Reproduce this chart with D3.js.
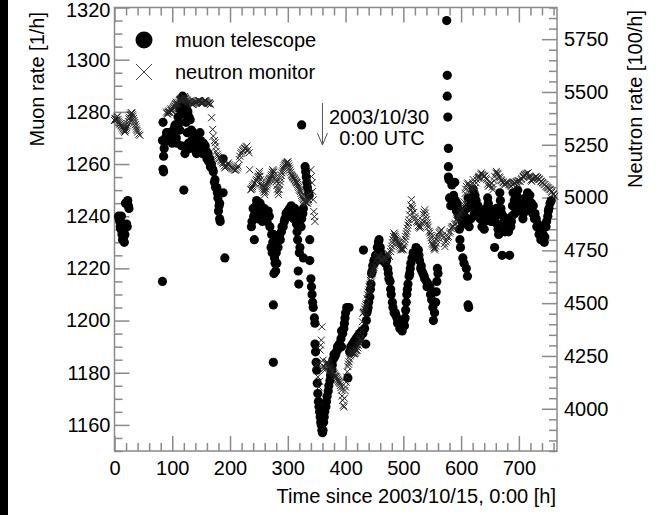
<!DOCTYPE html>
<html>
<head>
<meta charset="utf-8">
<script src="https://cdn.jsdelivr.net/npm/d3@7"></script>
<style>
  body { margin: 0; background: #fff; }
  text { font-family: "Liberation Sans", Arial, Helvetica, sans-serif; }
</style>
</head>
<body>
<svg id="chart" width="658" height="515"></svg>
<script>

//Tick labels
var hourTicks = [0, 100, 200, 300, 400, 500, 600, 700];
var muonTicks = [1160, 1180, 1200, 1220, 1240, 1260, 1280, 1300, 1320];
var neutronTicks = [4000, 4250, 4500, 4750, 5000, 5250, 5500, 5750];

//Muon telescope [hour, rate 1/h]
var muonStart = [[7,1240],[8,1239],[9,1238],[10,1236],[11,1235],[12,1240],[13,1233],[14,1231],[15,1237],[16,1232],[17,1230],[18,1233],[19,1245],[20,1236],[21,1237],[22,1236],[23,1246],[24,1244],[25,1243]];
var muonRise = [[83,1215],[84,1276],[83,1269],[86,1266],[85,1263],[84,1258],[85,1257],[88,1270],[90,1272],[92,1269],[93,1271],[95,1272],[96,1270],[99,1270],[100,1268],[102,1273],[104,1274],[105,1275],[107,1270],[108,1268],[110,1275],[110,1278],[112,1276],[113,1273],[113,1281],[115,1283],[116,1267],[117,1285],[118,1286],[119,1282],[120,1284],[120,1250],[121,1279],[122,1283],[122,1264],[124,1276],[125,1281],[126,1272],[127,1280],[128,1268],[129,1278],[130,1266],[131,1277],[133,1273],[134,1269],[136,1272],[137,1266],[139,1271],[140,1268],[142,1264],[143,1271],[145,1269],[146,1266],[148,1272],[149,1269],[151,1267],[152,1264],[154,1268],[155,1265],[157,1267],[159,1265],[160,1262],[162,1264],[163,1261],[165,1262],[166,1259],[168,1260],[170,1258],[171,1257],[173,1253],[174,1254],[175,1251],[177,1251],[178,1249],[179,1247],[180,1242],[181,1244],[182,1245],[182,1239],[183,1238],[188,1249],[188,1262],[191,1224]];
var muonPre = [[237,1236],[238,1238],[240,1243],[241,1240],[242,1231],[243,1242],[245,1244],[246,1246],[248,1241],[249,1239],[251,1243],[252,1245],[254,1240],[256,1238],[257,1240],[259,1243],[260,1241],[262,1241],[264,1238],[266,1242],[268,1240],[269,1236],[271,1228],[272,1233],[273,1226],[274,1230],[275,1233],[275,1206],[275,1184],[276,1218],[277,1224],[278,1222],[279,1219],[280,1226],[281,1222],[283,1228],[284,1231],[286,1233],[287,1231],[289,1234],[290,1236],[292,1236],[294,1238],[295,1239],[297,1241],[298,1240],[300,1242],[301,1240],[303,1243],[304,1242],[306,1244],[307,1242],[309,1240],[310,1239],[312,1243],[313,1241],[315,1237],[316,1234],[317,1231],[318,1219],[319,1214],[320,1226],[321,1228],[323,1236],[324,1239],[324,1275],[326,1241],[327,1243],[327,1224],[330,1259],[331,1257],[332,1255],[333,1253],[334,1251],[336,1249],[337,1248],[338,1231],[338,1223],[340,1216],[341,1213],[342,1210],[343,1207],[344,1205],[346,1201]];
var muonDip = [[347,1199],[347,1191],[348,1188],[349,1184],[350,1181],[351,1176],[352,1172],[353,1169],[354,1167],[355,1165],[356,1163],[357,1161],[358,1160],[359,1158],[360,1157],[361,1158],[362,1161],[363,1163],[364,1165],[366,1167],[367,1169],[368,1171],[370,1173],[371,1175],[373,1177],[374,1179],[376,1181],[377,1183],[378,1185],[380,1187],[381,1186],[383,1187],[384,1188],[386,1190],[387,1189],[389,1191],[390,1190],[392,1193],[393,1196],[393,1190],[395,1195],[397,1197],[398,1199],[399,1201],[400,1203],[402,1205],[404,1178],[406,1205],[407,1188],[409,1190],[410,1189],[412,1191],[413,1190],[415,1192],[416,1191],[418,1193],[419,1192],[421,1194],[422,1193],[424,1195],[426,1194],[428,1196],[430,1195],[431,1227],[433,1197],[435,1191],[436,1200],[437,1203],[438,1204],[439,1205],[440,1207],[442,1209],[443,1212],[444,1214],[445,1218],[446,1219],[447,1221],[449,1223],[450,1222],[452,1225],[453,1223],[455,1228],[457,1230],[458,1231]];
var muonRecovery = [[460,1228],[461,1226],[463,1224],[464,1223],[466,1224],[467,1223],[469,1222],[471,1223],[473,1220],[474,1218],[475,1216],[477,1215],[478,1212],[479,1210],[481,1207],[482,1205],[484,1203],[486,1203],[487,1202],[489,1201],[490,1199],[491,1200],[493,1199],[494,1197],[495,1198],[497,1197],[498,1196],[499,1198],[501,1200],[502,1198],[503,1201],[504,1204],[505,1207],[506,1210],[507,1212],[508,1214],[510,1217],[511,1218],[512,1220],[513,1222],[515,1224],[517,1226],[518,1225],[520,1226],[522,1228],[523,1227],[526,1227],[527,1225],[528,1223],[530,1220],[531,1221],[532,1219],[534,1218],[536,1217],[537,1216],[540,1215],[541,1213],[543,1214],[546,1213],[547,1210],[549,1208],[551,1205],[552,1200],[554,1203],[556,1207],[557,1211],[558,1215],[559,1220],[560,1218]];
var muonSpike = [[575,1315],[576,1294],[576,1286],[577,1278],[578,1266],[578,1259],[578,1255],[579,1254],[580,1247],[582,1244],[584,1252]];
var muonLate = [[586,1244],[587,1248],[589,1253],[590,1246],[592,1242],[593,1245],[595,1243],[596,1240],[597,1235],[598,1231],[599,1228],[601,1238],[602,1241],[603,1224],[605,1222],[606,1240],[608,1237],[609,1220],[610,1243],[611,1217],[612,1247],[612,1206],[613,1205],[614,1236],[615,1244],[617,1239],[618,1247],[620,1245],[621,1250],[623,1241],[624,1248],[626,1246],[627,1242],[629,1244],[630,1240],[632,1242],[633,1239],[635,1240],[636,1236],[638,1238],[640,1235],[641,1238],[643,1243],[644,1241],[646,1247],[647,1245],[649,1240],[650,1243],[652,1238],[653,1241],[655,1242],[656,1238],[658,1228],[660,1240],[661,1243],[662,1237],[664,1235],[665,1233],[667,1249],[668,1246],[669,1243],[670,1241],[671,1225],[673,1240],[674,1238],[676,1234],[677,1236],[679,1239],[680,1237],[682,1234],[684,1225],[686,1236],[687,1238],[688,1240],[689,1244],[690,1249],[692,1246],[693,1241],[695,1244],[696,1247],[698,1250],[699,1247],[701,1244],[702,1246],[704,1244],[705,1242],[707,1239],[708,1241],[710,1244],[711,1247],[713,1246],[715,1249],[716,1247],[718,1245],[719,1248],[721,1242],[722,1245],[724,1241],[725,1244],[727,1239],[728,1241],[730,1239],[731,1236],[733,1237],[735,1233],[736,1235],[738,1231],[739,1234],[741,1236],[742,1233],[744,1230],[745,1232],[747,1236],[748,1238],[750,1240],[751,1242],[752,1243],[754,1245],[756,1246]];

//Neutron monitor [hour, rate 100/h]
var neutronStart = [[0,5365],[1,5372],[2,5375],[3,5368],[4,5380],[5,5385],[6,5370],[7,5362],[8,5355],[9,5348],[10,5350],[11,5344],[12,5340],[13,5335],[14,5330],[15,5325],[16,5320],[17,5314],[18,5310],[19,5318],[20,5325],[21,5332],[22,5340],[23,5350],[24,5360],[25,5372],[26,5380],[27,5390],[28,5395],[29,5402],[30,5400],[31,5392],[32,5385],[33,5375],[34,5365],[35,5355],[36,5345],[37,5335],[38,5325],[39,5318],[40,5310],[42,5300],[44,5295]];
var neutronRise = [[90,5405],[91,5398],[92,5395],[93,5404],[94,5410],[95,5406],[96,5402],[97,5414],[98,5420],[99,5411],[100,5415],[101,5421],[102,5426],[103,5431],[104,5435],[105,5441],[106,5445],[107,5452],[108,5449],[109,5444],[110,5440],[111,5452],[112,5460],[113,5463],[114,5465],[115,5468],[116,5470],[117,5466],[118,5462],[119,5470],[120,5475],[121,5478],[122,5473],[123,5469],[124,5465],[125,5462],[126,5460],[127,5455],[128,5452],[129,5455],[130,5457],[131,5452],[132,5448],[133,5445],[134,5443],[135,5440],[136,5441],[137,5446],[138,5449],[139,5452],[140,5455],[141,5452],[142,5450],[143,5454],[144,5457],[145,5459],[146,5460],[147,5459],[148,5457],[149,5452],[150,5449],[151,5447],[152,5445],[153,5448],[154,5452],[155,5455],[156,5458],[157,5460],[158,5457],[159,5453],[160,5450],[161,5447],[162,5445],[163,5447],[164,5449],[165,5445],[166,5440],[168,5378],[170,5323],[171,5291],[173,5270],[174,5259],[175,5240],[176,5219],[178,5205],[179,5196],[181,5190],[182,5185],[184,5178],[185,5172],[187,5165],[188,5160],[190,5150],[191,5141],[193,5146],[194,5150],[196,5158],[197,5164],[199,5155],[200,5148],[202,5144],[203,5140],[205,5137],[206,5135],[208,5131],[209,5130],[211,5132],[213,5140],[214,5150],[216,5180],[217,5196],[219,5208],[220,5215],[222,5222],[223,5227],[225,5232],[226,5235],[228,5240],[229,5243],[231,5225],[233,5212],[234,5132]];
var neutronPre = [[236,5037],[237,5040],[238,5045],[239,5052],[240,5060],[242,5065],[243,5069],[245,5078],[246,5085],[248,5095],[249,5101],[250,5112],[251,5124],[252,5101],[253,5085],[254,5070],[255,5060],[256,5053],[257,5044],[258,5035],[259,5025],[260,5014],[261,5028],[262,5040],[263,5050],[264,5060],[265,5068],[266,5075],[267,5080],[268,5085],[269,5090],[270,5093],[271,5102],[272,5110],[273,5120],[274,5132],[275,5126],[276,5120],[277,5108],[278,5095],[279,5085],[280,5075],[281,5058],[282,5040],[283,5027],[284,5014],[285,5038],[286,5060],[287,5075],[288,5090],[289,5104],[290,5117],[291,5126],[292,5135],[293,5142],[294,5150],[295,5155],[296,5160],[297,5162],[298,5164],[299,5167],[300,5170],[301,5160],[302,5150],[303,5140],[304,5130],[305,5120],[306,5110],[307,5105],[308,5100],[309,5096],[310,5093],[311,5089],[312,5085],[313,5080],[314,5075],[315,5072],[316,5069],[317,5062],[318,5055],[319,5048],[320,5040],[321,5034],[322,5029],[323,5020],[324,5010],[325,5002],[326,4995],[327,4990],[328,4985],[329,4982],[330,4980],[331,4978],[332,4975],[333,4974],[334,4974],[335,4982],[336,4990],[337,5005],[338,5020],[340,5132],[341,5100],[342,5070],[343,5029],[344,4990],[345,4934],[346,4910],[347,4887]];
var neutronDip = [[350,4206],[351,4214],[352,4151],[354,4103],[355,4130],[356,4278],[357,4301],[358,4325],[359,4388],[361,4230],[362,4200],[363,4190],[364,4182],[365,4196],[366,4210],[367,4216],[368,4222],[369,4218],[370,4215],[371,4208],[372,4200],[373,4195],[374,4190],[375,4185],[376,4180],[377,4178],[378,4175],[379,4170],[380,4165],[381,4160],[382,4155],[383,4153],[384,4151],[385,4146],[386,4140],[387,4135],[388,4130],[389,4125],[390,4119],[391,4110],[392,4100],[393,4088],[394,4060],[395,4040],[396,4016],[397,4008],[398,4050],[399,4087],[400,4103],[401,4126],[402,4150],[403,4175],[404,4200],[405,4211],[406,4222],[407,4236],[408,4250],[409,4256],[410,4262],[411,4266],[412,4270],[413,4265],[414,4260],[415,4261],[416,4262],[417,4268],[418,4275],[419,4277],[420,4278],[421,4289],[422,4300],[423,4312],[424,4325],[425,4329],[426,4333],[427,4352],[428,4372],[429,4412],[430,4452],[431,4456],[432,4460],[433,4472],[434,4483],[435,4492],[436,4500],[437,4520],[438,4540],[439,4552],[440,4563],[441,4577],[442,4590],[443,4608],[444,4626],[445,4633],[446,4640],[447,4650],[448,4660],[449,4670],[450,4680]];
var neutronRecovery = [[452,4700],[454,4712],[455,4721],[457,4726],[458,4721],[460,4708],[461,4700],[463,4705],[464,4710],[466,4716],[467,4720],[469,4712],[470,4705],[472,4726],[473,4737],[475,4728],[476,4721],[478,4744],[479,4757],[480,4770],[481,4786],[482,4800],[483,4816],[484,4832],[485,4824],[486,4816],[487,4808],[488,4800],[489,4795],[490,4790],[491,4787],[492,4784],[493,4777],[494,4770],[495,4761],[496,4752],[497,4756],[498,4760],[499,4756],[500,4752],[501,4771],[502,4790],[503,4803],[504,4816],[505,4828],[506,4840],[507,4855],[508,4870],[509,4882],[510,4895],[511,4918],[512,4940],[513,4965],[514,4990],[515,4958],[516,4948],[518,4930],[520,4910],[521,4900],[523,4887],[524,4880],[526,4867],[527,4860],[529,4855],[530,4862],[532,4880],[533,4893],[535,4920],[536,4931],[537,4942],[538,4926],[539,4910],[540,4895],[541,4880],[542,4870],[543,4860],[545,4841],[546,4832],[547,4821],[548,4810],[549,4797],[550,4784],[551,4777],[552,4770],[553,4761],[554,4752],[555,4761],[556,4770],[557,4785],[558,4800],[559,4810],[560,4820],[562,4833],[563,4840],[565,4845],[566,4847],[568,4822],[569,4810],[571,4782],[572,4768],[574,4790],[575,4800],[577,4810],[578,4816],[580,4832],[581,4840],[583,4853],[584,4860],[586,4862],[587,4863],[589,4873],[590,4879],[592,4893],[593,4900],[595,4907],[596,4911],[598,4924],[599,4930],[601,4938],[602,4942],[604,4967],[605,4980]];
var neutronLate = [[607,5020],[608,5040],[609,5053],[611,5064],[612,5069],[614,5056],[615,5050],[617,5041],[618,5037],[620,5070],[621,5085],[623,5060],[624,5045],[626,5070],[627,5085],[629,5091],[630,5095],[631,5098],[632,5101],[634,5110],[635,5117],[637,5110],[638,5105],[640,5102],[641,5101],[643,5092],[644,5085],[646,5064],[647,5053],[649,5058],[650,5060],[652,5066],[653,5069],[654,5050],[655,5037],[657,5080],[658,5101],[660,5116],[661,5124],[663,5115],[664,5110],[666,5098],[667,5093],[669,5085],[670,5080],[672,5074],[673,5070],[675,5064],[676,5061],[678,5070],[679,5075],[680,5072],[681,5069],[683,5063],[684,5060],[686,5056],[687,5053],[689,5061],[690,5065],[692,5068],[693,5070],[695,5073],[696,5075],[698,5078],[699,5080],[701,5078],[702,5077],[704,5085],[705,5090],[707,5097],[708,5100],[709,5105],[710,5109],[712,5111],[713,5112],[715,5115],[716,5117],[718,5102],[719,5095],[721,5083],[722,5077],[724,5086],[725,5090],[727,5093],[728,5095],[729,5098],[730,5101],[732,5095],[733,5092],[735,5088],[736,5085],[738,5078],[739,5075],[741,5071],[742,5068],[744,5063],[745,5061],[747,5054],[748,5050],[750,5047],[751,5045],[753,5040],[754,5037],[756,5030],[757,5025],[759,5018],[760,5015],[762,5006]];

var muonData = [].concat(muonStart, muonRise, muonPre, muonDip, muonRecovery, muonSpike, muonLate);
var neutronData = [].concat(neutronStart, neutronRise, neutronPre, neutronDip, neutronRecovery, neutronLate);

//Plot box
var plot = {left: 114.5, right: 557, top: 7.5, bottom: 451};
var axisColor = "#8a8a8a";

var svg = d3.select("#chart");

//Dark strip at the left edge of the picture
svg.append("rect").attr("x", 0).attr("y", 0).attr("width", 8).attr("height", 515).attr("fill", "#000");

//Scales
var x = d3.scaleLinear().domain([0, 766]).range([plot.left, plot.right]);
var yMuon = d3.scaleLinear().domain([1150, 1320]).range([plot.bottom, plot.top]);
var yNeutron = d3.scaleLinear().domain([3800, 5900]).range([plot.bottom, plot.top]);

//Minor tick positions
var hourMinor = d3.range(0, 767, 20).filter(function(d) { return d % 100 !== 0; });
var muonMinor = d3.range(1150, 1321, 5).filter(function(d) { return d % 20 !== 0; });
var neutronMinor = d3.range(3800, 5901, 50).filter(function(d) { return d % 250 !== 0; });

function styleAxis(g) {
  g.select(".domain").remove();
  g.selectAll(".tick line").attr("stroke", axisColor).attr("stroke-width", 1.5);
  g.selectAll(".tick text").attr("fill", "#000").style("font-size", "20px");
}

//Bottom axis (labelled) + top axis (ticks only)
svg.append("g").attr("transform", "translate(0," + plot.bottom + ")")
  .call(d3.axisBottom(x).tickValues(hourTicks).tickSize(-15).tickPadding(10).tickFormat(d3.format("d")))
  .call(styleAxis);
svg.append("g").attr("transform", "translate(0," + plot.bottom + ")")
  .call(d3.axisBottom(x).tickValues(hourMinor).tickSize(-8).tickFormat(""))
  .call(styleAxis);
svg.append("g").attr("transform", "translate(0," + plot.top + ")")
  .call(d3.axisTop(x).tickValues(hourTicks).tickSize(-15).tickFormat(""))
  .call(styleAxis);
svg.append("g").attr("transform", "translate(0," + plot.top + ")")
  .call(d3.axisTop(x).tickValues(hourMinor).tickSize(-8).tickFormat(""))
  .call(styleAxis);

//Left axis - muon
var leftAxis = svg.append("g").attr("transform", "translate(" + plot.left + ",0)")
  .call(d3.axisLeft(yMuon).tickValues(muonTicks).tickSize(-15).tickPadding(4).tickFormat(d3.format("d")))
  .call(styleAxis);
//keep the top label inside the picture
leftAxis.selectAll(".tick text").filter(function(d) { return d === 1320; }).attr("dy", "0.45em");
svg.append("g").attr("transform", "translate(" + plot.left + ",0)")
  .call(d3.axisLeft(yMuon).tickValues(muonMinor).tickSize(-8).tickFormat(""))
  .call(styleAxis);

//Right axis - neutron
svg.append("g").attr("transform", "translate(" + plot.right + ",0)")
  .call(d3.axisRight(yNeutron).tickValues(neutronTicks).tickSize(-15).tickPadding(7).tickFormat(d3.format("d")))
  .call(styleAxis);
svg.append("g").attr("transform", "translate(" + plot.right + ",0)")
  .call(d3.axisRight(yNeutron).tickValues(neutronMinor).tickSize(-8).tickFormat(""))
  .call(styleAxis);

//Frame
svg.append("rect")
  .attr("x", plot.left).attr("y", plot.top)
  .attr("width", plot.right - plot.left).attr("height", plot.bottom - plot.top)
  .attr("fill", "none").attr("stroke", axisColor).attr("stroke-width", 1.5);

//Muon dots
svg.append("g").selectAll("circle")
  .data(muonData)
  .enter().append("circle")
    .attr("cx", function(d) { return x(d[0]); })
    .attr("cy", function(d) { return yMuon(d[1]); })
    .attr("r", 4.6)
    .attr("fill", "#000");

//Neutron crosses
var cs = 3.5;
svg.append("g").selectAll("path")
  .data(neutronData)
  .enter().append("path")
    .attr("transform", function(d) { return "translate(" + x(d[0]) + "," + yNeutron(d[1]) + ")"; })
    .attr("d", "M" + (-cs) + "," + (-cs) + "L" + cs + "," + cs + "M" + (-cs) + "," + cs + "L" + cs + "," + (-cs))
    .attr("stroke", "#222")
    .attr("stroke-width", 1)
    .attr("fill", "none");

//Legend
svg.append("circle").attr("cx", 144).attr("cy", 40).attr("r", 8.5).attr("fill", "#000");
svg.append("path")
  .attr("d", "M136,64L152,80M136,80L152,64")
  .attr("stroke", "#444").attr("stroke-width", 1).attr("fill", "none");
svg.append("text").attr("x", 175).attr("y", 47).style("font-size", "20px").text("muon telescope");
svg.append("text").attr("x", 175).attr("y", 79).style("font-size", "20px").text("neutron monitor");

//Annotation: 2003/10/30 = 360 h
var ax = x(360);
svg.append("path")
  .attr("d", "M" + ax + ",103L" + ax + ",145M" + (ax - 5) + ",133L" + ax + ",145L" + (ax + 5) + ",133")
  .attr("stroke", "#555").attr("stroke-width", 1).attr("fill", "none");
svg.append("text").attr("x", 379).attr("y", 124).attr("text-anchor", "middle").style("font-size", "20px").text("2003/10/30");
svg.append("text").attr("x", 382).attr("y", 145).attr("text-anchor", "middle").style("font-size", "20px").text("0:00 UTC");

//Axis titles
svg.append("text")
  .attr("transform", "translate(44,12) rotate(-90)")
  .attr("text-anchor", "end")
  .style("font-size", "20px")
  .text("Muon rate [1/h]");
svg.append("text")
  .attr("transform", "translate(642,10) rotate(-90)")
  .attr("text-anchor", "end")
  .style("font-size", "20px")
  .text("Neutron rate [100/h]");
svg.append("text")
  .attr("x", 556).attr("y", 503)
  .attr("text-anchor", "end")
  .style("font-size", "20px")
  .text("Time since 2003/10/15, 0:00 [h]");

</script>
</body>
</html>
